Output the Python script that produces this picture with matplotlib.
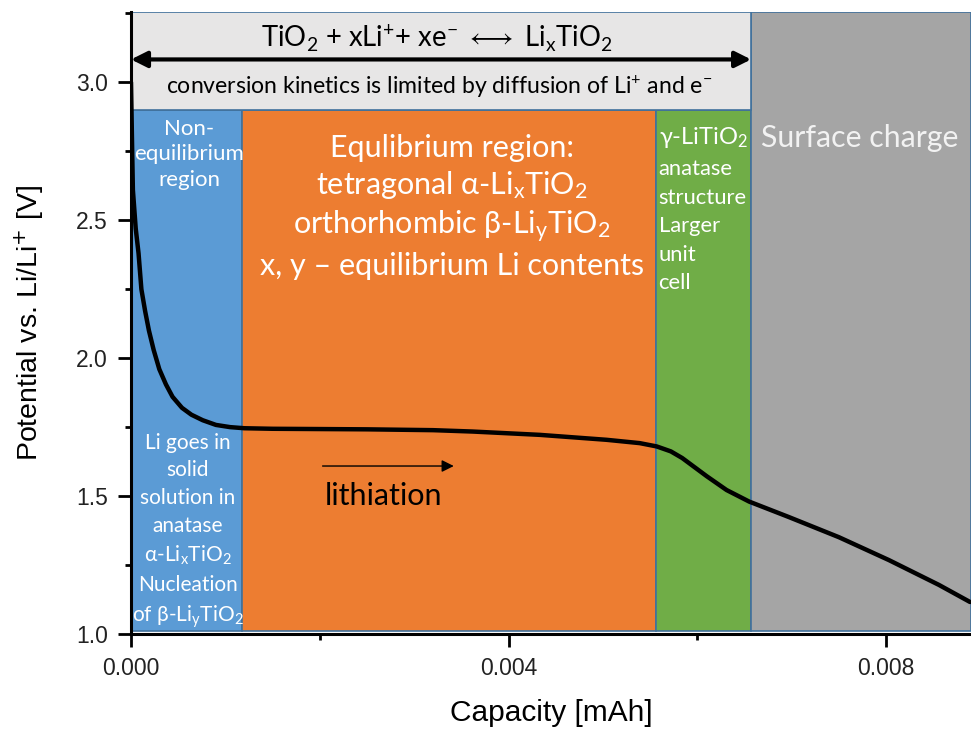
import matplotlib
matplotlib.use("Agg")
import matplotlib.pyplot as plt
from matplotlib.patches import Rectangle
from matplotlib.ticker import MultipleLocator, FormatStrFormatter

# ---------------- data ----------------
capacity = [0.0, 0.00001, 0.00002, 0.00005, 0.00008, 0.00011, 0.00015, 0.00019,
            0.00024, 0.00030, 0.00037, 0.00044, 0.00054, 0.00064, 0.00076,
            0.00090, 0.00105, 0.00120, 0.00150, 0.00250, 0.00320,
            0.00362, 0.00433, 0.00504, 0.00539, 0.00557, 0.00572, 0.00584,
            0.00597, 0.00610, 0.00631, 0.00655, 0.00697, 0.00750, 0.00803,
            0.00856, 0.00889]
potential = [3.00, 2.80, 2.61, 2.47, 2.38, 2.25, 2.17, 2.10,
             2.03, 1.96, 1.905, 1.86, 1.82, 1.795, 1.775,
             1.758, 1.750, 1.746, 1.744, 1.742, 1.739,
             1.734, 1.722, 1.704, 1.692, 1.680, 1.662, 1.638,
             1.605, 1.572, 1.522, 1.480, 1.424, 1.351, 1.268,
             1.178, 1.116]

# region boundaries (capacity, mAh)
region_edges = [0.0, 0.00118, 0.00556, 0.00657, 0.0089]
region_colors = ["#5b9bd5", "#ed7d31", "#70ad47", "#a5a5a5"]
region_bottom = 1.012
region_top = 2.9
top_box_color = "#e7e6e6"
edge_color = "#41719c"

x_major = [0.0, 0.004, 0.008]
y_major = [1.0, 1.5, 2.0, 2.5, 3.0]
xlim = (0.0, 0.0089)
ylim = (1.0, 3.255)

plt.rcParams['font.family'] = ['Lato', 'DejaVu Sans']
plt.rcParams['mathtext.fontset'] = 'custom'
plt.rcParams['mathtext.rm'] = 'Lato'
plt.rcParams['mathtext.it'] = 'Lato:italic'
plt.rcParams['mathtext.bf'] = 'Lato:bold'
plt.rcParams['mathtext.fallback'] = 'stixsans'

fig = plt.figure(figsize=(9.71, 7.31), dpi=100)
ax = fig.add_axes([131/971, (731-634)/731, 1 - 131/971, (634-12)/731])
ax.set_xlim(*xlim)
ax.set_ylim(*ylim)

# coloured regions
for i, c in enumerate(region_colors):
    x0, x1 = region_edges[i], region_edges[i+1]
    top = ylim[1] if i == 3 else region_top
    ax.add_patch(Rectangle((x0, region_bottom), x1 - x0, top - region_bottom,
                           facecolor=c, edgecolor=edge_color, lw=1.2, zorder=1))
# top grey box
ax.add_patch(Rectangle((region_edges[0], region_top), region_edges[3] - region_edges[0],
                       ylim[1] - region_top, facecolor=top_box_color,
                       edgecolor=edge_color, lw=1.2, zorder=1))

# curve
ax.plot(capacity, potential, color='black', lw=3.2, zorder=5,
        solid_capstyle='round', solid_joinstyle='round')

# double arrow
ax.annotate('', xy=(region_edges[3], 3.083), xytext=(0.0, 3.083),
            arrowprops=dict(arrowstyle='<|-|>', lw=3, color='black',
                            mutation_scale=24, shrinkA=0, shrinkB=0), zorder=6)
ax.text(0.00324, 3.159,
        r'TiO$_2$ + xLi$^{+}$+ xe$^{-}$ $\longleftrightarrow$ Li$_\mathrm{x}$TiO$_2$',
        ha='center', va='center', fontsize=19.8, color='black', zorder=6)
ax.text(0.00326, 2.985, r'conversion kinetics is limited by diffusion of Li$^{+}$ and e$^{-}$',
        ha='center', va='center', fontsize=16.6, color='black', zorder=6)

# lithiation arrow
ax.annotate('', xy=(0.00342, 1.609), xytext=(0.00203, 1.609),
            arrowprops=dict(arrowstyle='-|>', lw=1.0, color='black',
                            mutation_scale=18, shrinkA=0, shrinkB=0), zorder=6)
ax.text(0.00267, 1.502, 'lithiation', ha='center', va='center', fontsize=22,
        color='black', zorder=6)

# region texts
ax.text(0.00062, 2.739, 'Non-\nequilibrium\nregion', ha='center', va='center',
        fontsize=16, color='white', linespacing=1.33, zorder=6)
ax.text(0.00060, 1.372,
        'Li goes in\nsolid\nsolution in\nanatase\n'
        r'α-Li$_\mathrm{x}$TiO$_2$' '\nNucleation\n' r'of β-Li$_\mathrm{y}$TiO$_2$',
        ha='center', va='center', fontsize=15, color='white', linespacing=1.47, zorder=6)
ax.text(0.00340, 2.549,
        'Equlibrium region:\n' r'tetragonal α-Li$_\mathrm{x}$TiO$_2$' '\n'
        r'orthorhombic β-Li$_\mathrm{y}$TiO$_2$' '\nx, y – equilibrium Li contents',
        ha='center', va='center', fontsize=22, color='white', linespacing=1.3, zorder=6)
ax.text(0.00559, 2.80, r'γ-LiTiO$_2$', ha='left', va='center', fontsize=17,
        color='white', zorder=6)
ax.text(0.00559, 2.478, 'anatase\nstructure\nLarger\nunit\ncell', ha='left', va='center',
        fontsize=15.8, color='white', linespacing=1.53, zorder=6)
ax.text(0.00668, 2.80, 'Surface charge', ha='left', va='center', fontsize=21.8,
        color='#f2f2f2', zorder=6)

# axes styling
for s in ['top', 'right']:
    ax.spines[s].set_visible(False)
for s in ['left', 'bottom']:
    ax.spines[s].set_linewidth(2.2)
    ax.spines[s].set_zorder(7)
ax.set_xticks(x_major)
ax.set_yticks(y_major)
ax.xaxis.set_minor_locator(MultipleLocator(0.002))
ax.yaxis.set_minor_locator(MultipleLocator(0.25))
ax.xaxis.set_major_formatter(FormatStrFormatter('%.3f'))
ax.yaxis.set_major_formatter(FormatStrFormatter('%.1f'))
ax.tick_params(which='major', direction='out', length=9.5, width=2, labelsize=16.5,
               pad=7)
ax.tick_params(which='minor', direction='out', length=4, width=2)
for lab in ax.get_xticklabels() + ax.get_yticklabels():
    lab.set_family('Liberation Sans')
    lab.set_color('#222222')
ax.set_xlabel('Capacity [mAh]', fontsize=21.5, family='Liberation Sans', labelpad=14)
ax.set_ylabel(r'Potential vs. Li/Li$^{+}$ [V]', fontsize=20.5, family='Liberation Sans',
              labelpad=22)
ax.yaxis.label.set_math_fontfamily('dejavusans')

fig.savefig('out.png', dpi=100)
